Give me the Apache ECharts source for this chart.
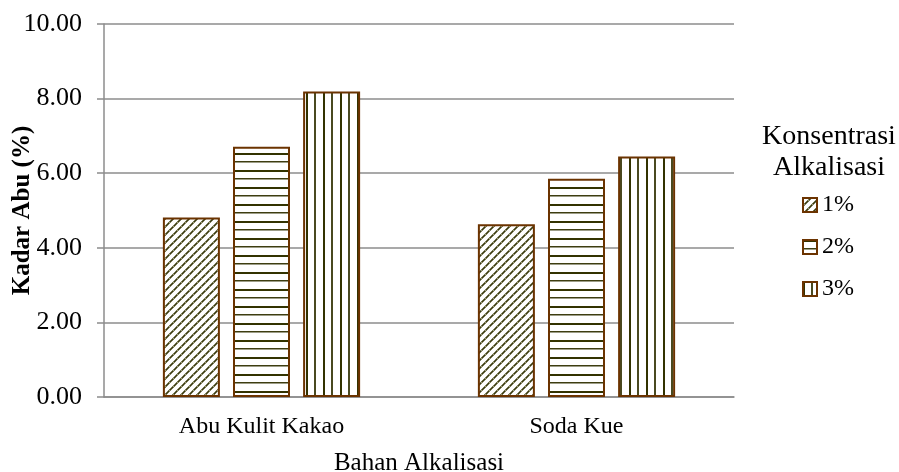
<!DOCTYPE html>
<html>
<head>
<meta charset="utf-8">
<script src="https://cdn.jsdelivr.net/npm/echarts@6/dist/echarts.min.js"></script>
<style>html,body{margin:0;padding:0;background:#fff;}#c{width:899px;height:472px;}</style>
</head>
<body>
<div id="c"></div>
<script>
var categories = ['Abu Kulit Kakao', 'Soda Kue'];
var seriesNames = ['1%', '2%', '3%'];
var values1 = [4.81, 4.63];
var values2 = [6.71, 5.85];
var values3 = [8.19, 6.45];
var yTicks = [0, 2, 4, 6, 8, 10];

var FONT = '"Liberation Serif", "Times New Roman", serif';
var LINE = '#333300';
var BORDER = '#6b3300';

function makePattern(kind) {
  var c = document.createElement('canvas');
  var ctx;
  if (kind === 'diag') {
    c.width = 8; c.height = 8;
    ctx = c.getContext('2d');
    ctx.fillStyle = '#fff'; ctx.fillRect(0, 0, 8, 8);
    ctx.strokeStyle = '#3a3a0c'; ctx.lineWidth = 1.6;
    ctx.beginPath();
    ctx.moveTo(-2, 10); ctx.lineTo(10, -2);
    ctx.moveTo(-2, 2); ctx.lineTo(2, -2);
    ctx.moveTo(6, 10); ctx.lineTo(10, 6);
    ctx.stroke();
    ctx.fillStyle = 'rgba(200,200,160,0.7)';
    ctx.fillRect(1, 6, 1, 1); ctx.fillRect(5, 2, 1, 1);
  } else if (kind === 'horiz') {
    c.width = 8; c.height = 17;
    ctx = c.getContext('2d');
    ctx.fillStyle = '#fff'; ctx.fillRect(0, 0, 8, 17);
    ctx.fillStyle = LINE;
    ctx.fillRect(0, 0, 8, 2);
    ctx.fillStyle = '#3d3d10';
    ctx.fillRect(0, 8, 8, 1.5);
  } else {
    c.width = 17; c.height = 8;
    ctx = c.getContext('2d');
    ctx.fillStyle = '#fff'; ctx.fillRect(0, 0, 17, 8);
    ctx.fillStyle = LINE;
    ctx.fillRect(0, 0, 2, 8);
    ctx.fillStyle = '#4a4a20';
    ctx.fillRect(8, 0, 2, 8);
  }
  return { image: c, repeat: 'repeat' };
}

var patterns = [makePattern('diag'), makePattern('horiz'), makePattern('vert')];
var seriesData = [values1, values2, values3];

var chart = echarts.init(document.getElementById('c'), null, { renderer: 'canvas' });
var option = {
  animation: false,
  backgroundColor: '#fff',
  grid: { left: 104, right: 165, top: 24, bottom: 75, containLabel: false, outerBoundsMode: 'none' },
  xAxis: {
    type: 'category',
    data: categories,
    name: 'Bahan Alkalisasi',
    nameLocation: 'middle',
    nameGap: 54,
    nameMoveOverlap: false,
    nameTextStyle: { fontFamily: FONT, fontSize: 25, color: '#000' },
    axisLine: { show: true, lineStyle: { color: '#8c8c8c', width: 1.5 } },
    axisTick: { show: false },
    axisLabel: { fontFamily: FONT, fontSize: 24, color: '#000', margin: 18 }
  },
  yAxis: {
    type: 'value',
    min: 0, max: 10, interval: 2,
    name: 'Kadar Abu (%)',
    nameLocation: 'middle',
    nameGap: 69,
    nameMoveOverlap: false,
    nameRotate: 90,
    nameTextStyle: { fontFamily: FONT, fontSize: 25, fontWeight: 'bold', color: '#000' },
    axisLine: { show: true, lineStyle: { color: '#8c8c8c', width: 1.5 } },
    axisTick: { show: true, length: 7, lineStyle: { color: '#8c8c8c', width: 1.5 } },
    splitLine: { show: true, lineStyle: { color: '#8c8c8c', width: 1.5 } },
    axisLabel: {
      fontFamily: FONT, fontSize: 26, color: '#000', margin: 22,
      formatter: function (v) { return yTicks.indexOf(v) >= 0 ? v.toFixed(2) : ''; }
    }
  },
  legend: {
    orient: 'vertical',
    left: 802,
    top: 193,
    padding: 0,
    itemWidth: 14,
    itemHeight: 14,
    itemGap: 18,
    icon: 'rect',
    data: seriesNames,
    textStyle: { fontFamily: FONT, fontSize: 24, color: '#000' }
  },
  graphic: [
    { type: 'text', style: { text: 'Konsentrasi', x: 829, y: 137, align: 'center', verticalAlign: 'middle', font: '28px ' + FONT, fill: '#000' } },
    { type: 'text', style: { text: 'Alkalisasi', x: 829, y: 168, align: 'center', verticalAlign: 'middle', font: '28px ' + FONT, fill: '#000' } }
  ],
  series: seriesNames.map(function (n, i) {
    return {
      name: n,
      type: 'bar',
      data: seriesData[i],
      barWidth: 57,
      barGap: '23%',
      itemStyle: { color: patterns[i], borderColor: BORDER, borderWidth: 2 }
    };
  })
};
chart.setOption(option);
</script>
</body>
</html>
